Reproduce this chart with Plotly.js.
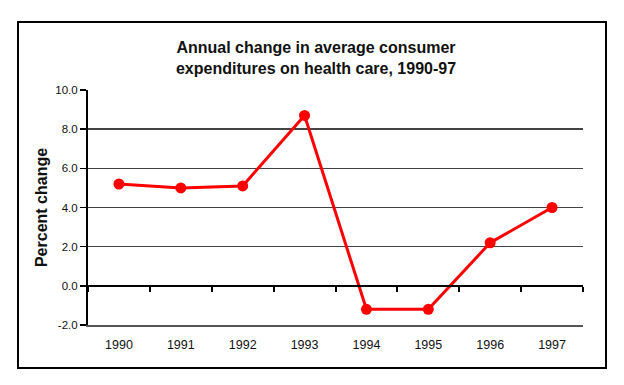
<!DOCTYPE html>
<html>
<head>
<meta charset="utf-8">
<script src="https://cdn.plot.ly/plotly-3.0.1.min.js"></script>
<style>
html,body{margin:0;padding:0;background:#fff;}
#chart{width:624px;height:385px;}
</style>
</head>
<body>
<div id="chart"></div>
<script>
var years = ['1990','1991','1992','1993','1994','1995','1996','1997'];
var pctChange = [5.2, 5.0, 5.1, 8.7, -1.2, -1.2, 2.2, 4.0];
var yTicks = [-2, 0, 2, 4, 6, 8, 10];
var yTickText = yTicks.map(function (v) { return v.toFixed(1); });

var font = 'Liberation Sans, Arial, sans-serif';

var trace = {
  x: years,
  y: pctChange,
  type: 'scatter',
  mode: 'lines+markers',
  line: {color: '#ff0000', width: 3},
  marker: {color: '#ff0000', size: 11},
  hoverinfo: 'skip'
};
var zeroAxisTrace = {
  x: years, y: pctChange, xaxis: 'x2', yaxis: 'y',
  type: 'scatter', mode: 'none', hoverinfo: 'skip', showlegend: false
};

var layout = {
  width: 624, height: 385,
  margin: {l: 88, r: 41, t: 90, b: 60},
  paper_bgcolor: '#ffffff',
  plot_bgcolor: '#ffffff',
  showlegend: false,
  font: {family: font, color: '#000', size: 11},
  title: {
    text: '<b>Annual change in average consumer<br>expenditures on health care, 1990-97</b>',
    font: {family: font, size: 16, color: '#111'},
    x: 316/624, xref: 'container', xanchor: 'center',
    y: 1 - 53/385, yref: 'container', yanchor: 'middle'
  },
  xaxis: {
    type: 'category',
    range: [-0.5, 7.5],
    showgrid: false,
    zeroline: false,
    showline: true,
    linecolor: '#555',
    linewidth: 1.5,
    ticks: '',
    ticklabelstandoff: 7,
    tickfont: {family: font, size: 12.5, color: '#111'},
    fixedrange: true
  },
  xaxis2: {
    type: 'category',
    overlaying: 'x',
    matches: 'x',
    anchor: 'free',
    position: 2/12,
    side: 'bottom',
    showline: true,
    linecolor: '#000',
    linewidth: 2,
    ticks: 'outside',
    tickson: 'boundaries',
    ticklen: 5,
    tickwidth: 2,
    tickcolor: '#000',
    showticklabels: false,
    showgrid: false,
    zeroline: false
  },
  yaxis: {
    range: [-2, 10],
    tickvals: yTicks,
    ticktext: yTickText,
    showgrid: true,
    gridcolor: '#444',
    gridwidth: 1.5,
    zeroline: false,
    showline: true,
    linecolor: '#000',
    linewidth: 2,
    ticks: 'outside',
    ticklen: 6,
    tickwidth: 1.5,
    tickcolor: '#000',
    tickfont: {family: font, size: 11.5, color: '#111'},
    automargin: false,
    title: {
      text: '<b>Percent change</b>',
      font: {family: font, size: 16, color: '#111'},
      standoff: 4
    },
    fixedrange: true
  },
  shapes: [{
    type: 'rect', xref: 'paper', yref: 'paper',
    x0: (18-88)/495, x1: (606-88)/495,
    y0: (325-368)/235, y1: (325-22)/235,
    line: {color: '#000', width: 2},
    fillcolor: 'rgba(0,0,0,0)',
    layer: 'below'
  }]
};

Plotly.newPlot('chart', [trace, zeroAxisTrace], layout, {displayModeBar: false, staticPlot: true});
</script>
</body>
</html>
